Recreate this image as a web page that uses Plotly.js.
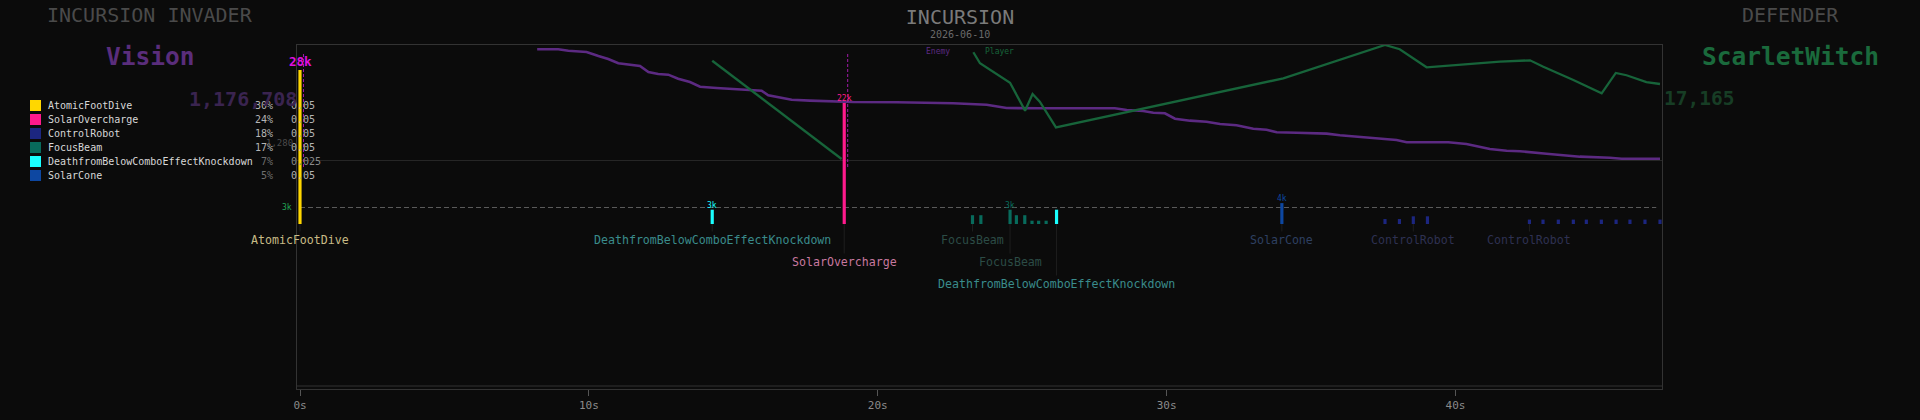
<!DOCTYPE html>
<html><head><meta charset="utf-8">
<script src="https://cdn.plot.ly/plotly-3.0.1.min.js"></script>
<style>html,body{margin:0;padding:0;background:#0b0b0b;}#chart{width:1920px;height:420px;}</style>
</head><body><div id="chart"></div>
<script>
// ---------------- DATA ----------------
const abilities = ['AtomicFootDive','SolarOvercharge','ControlRobot','FocusBeam','DeathfromBelowComboEffectKnockdown','SolarCone'];
const abilityColors = ['#ffd700','#ff1a8c','#1c2680','#086b5c','#1affff','#0d47a1'];
const abilityLabelColors = ['#c8bb86','#c8789f','#2e3152','#2c4c46','#3a8c8c','#2e4062'];
const legendPct = ['30%','24%','18%','17%','7%','5%'];
const legendVal = ['0.05','0.05','0.05','0.05','0.025','0.05'];

// damage events
const hitTimes  = [0.00, 14.27, 18.84, 23.28, 23.57, 24.58, 24.80, 25.09, 25.34, 25.57, 25.83, 26.19, 33.99,
                   37.56, 38.06, 38.54, 39.03, 42.56, 43.03, 43.56, 44.08, 44.53, 45.05, 45.56, 46.04, 46.56, 47.08];
const hitDamage = [28000, 2600, 22000, 1600, 1600, 2600, 1600, 1600, 600, 600, 600, 2600, 3800,
                   900, 900, 1400, 1400, 800, 800, 800, 800, 800, 800, 800, 800, 800, 800];
const hitAbility = ['AtomicFootDive','DeathfromBelowComboEffectKnockdown','SolarOvercharge','FocusBeam','FocusBeam',
                    'FocusBeam','FocusBeam','FocusBeam','FocusBeam','FocusBeam','FocusBeam',
                    'DeathfromBelowComboEffectKnockdown','SolarCone',
                    'ControlRobot','ControlRobot','ControlRobot','ControlRobot',
                    'ControlRobot','ControlRobot','ControlRobot','ControlRobot','ControlRobot','ControlRobot','ControlRobot','ControlRobot','ControlRobot','ControlRobot'];

// name labels under casts
const castTimes = [0.00, 14.27, 18.84, 23.28, 24.58, 26.19, 33.99, 38.54, 42.56];
const castAbility = ['AtomicFootDive','DeathfromBelowComboEffectKnockdown','SolarOvercharge','FocusBeam','FocusBeam',
                     'DeathfromBelowComboEffectKnockdown','SolarCone','ControlRobot','ControlRobot'];
// value labels above bars
const peakTimes = [0.00, 14.27, 18.84, 24.58, 33.99];
const peakText  = ['28k','3k','22k','3k','4k'];
// highlight markers (dashed)
const markerTimes = [0.12, 18.96];
const refLevel = 3000, refLabel = '3k';

// HP fraction lines
const enemyT = [8.21,8.94,9.29,9.92,10.33,10.67,11.02,11.36,11.77,12.06,12.40,12.75,13.09,13.50,13.85,14.42,15.00,15.69,15.98,16.21,16.61,17.02,17.65,18.46,19.15,20.65,22.61,23.77,24.46,25.61,28.21,28.62,29.19,29.54,29.94,30.29,30.81,31.38,31.85,32.42,33.00,33.46,33.81,34.50,35.54,36.00,36.69,37.38,37.96,38.31,39.75,40.38,41.19,41.77,42.23,43.15,44.31,45.34,45.75,47.08];
const enemyHP = [0.963,0.963,0.950,0.939,0.904,0.878,0.841,0.829,0.817,0.765,0.748,0.742,0.707,0.678,0.637,0.626,0.617,0.611,0.603,0.563,0.545,0.524,0.516,0.507,0.504,0.502,0.493,0.481,0.452,0.450,0.450,0.435,0.426,0.411,0.406,0.359,0.342,0.333,0.313,0.302,0.272,0.263,0.241,0.237,0.229,0.215,0.200,0.185,0.174,0.154,0.154,0.139,0.096,0.081,0.076,0.055,0.029,0.020,0.011,0.011];
const playerT = [14.27,18.75,18.80,23.31,23.54,24.58,25.10,25.36,25.61,26.17,34.04,37.56,38.07,39.00,39.57,40.61,41.54,42.58,43.04,44.08,45.06,45.55,45.92,46.61,47.08];
const playerHP = [0.863,0.009,null,0.937,0.841,0.672,0.429,0.574,0.507,0.284,0.710,1.000,0.963,0.806,0.817,0.835,0.855,0.867,0.811,0.696,0.580,0.757,0.737,0.678,0.661];

const invaderLabel = 'INCURSION INVADER', invaderName = 'Vision', invaderValue = '1,176,708';
const defenderLabel = 'DEFENDER', defenderName = 'ScarletWitch', defenderValue = '17,165';
const chartTitle = 'INCURSION', chartDate = '2026-06-10';
const smallNote = '1,280';
const xTicks = [0,10,20,30,40];
const tEnd = 47.08;

// ---------------- LAYOUT HELPERS ----------------
const FONT = 'DejaVu Sans Mono, monospace';
const X0 = 300, X1 = 1660;            // pixel of t=0 and t=tEnd
const PPS = (X1 - X0) / tEnd;         // pixels per second
const L = 297, R = 1662, T = 45, B = 389;  // plot frame (slightly padded so edge bars show whole)
const PX = x => (x - L) / (R - L);
const PY = y => (B - y) / (B - T);
const colorOf = a => abilityColors[abilities.indexOf(a)];

const traces = [];
traces.push({type:'scatter', x: enemyT, y: enemyHP, yaxis:'y2', mode:'lines',
  line:{color:'#5c2a82', width:2.6, shape:'linear'}, hoverinfo:'skip', showlegend:false});
traces.push({type:'scatter', x: playerT, y: playerHP, yaxis:'y2', mode:'lines', connectgaps:false,
  line:{color:'#17643a', width:2.3}, hoverinfo:'skip', showlegend:false});
abilities.forEach((a, i) => {
  const xs = [], ys = [];
  hitTimes.forEach((t, k) => { if (hitAbility[k] === a) { xs.push(t); ys.push(hitDamage[k]); } });
  traces.push({type:'bar', x: xs, y: ys, width: 0.11, cliponaxis:false,
    marker:{color: abilityColors[i], line:{width:0}},
    hoverinfo:'skip', showlegend:false, name:a});
});

const annotations = [];
const shapes = [];

// legend block
abilities.forEach((a, i) => {
  const yc = 105.5 + 14 * i;
  shapes.push({type:'rect', xref:'paper', yref:'paper', x0: PX(30), x1: PX(41), y0: PY(yc+5.5), y1: PY(yc-5.5),
    fillcolor: abilityColors[i], line:{width:0}, layer:'above'});
  annotations.push({xref:'paper', yref:'paper', x: PX(46), y: PY(yc), xanchor:'left', yanchor:'middle',
    text: a, showarrow:false, font:{family:FONT, size:10, color:'#d8d8d8'}});
  const dim = parseFloat(legendPct[i]) < 10;
  annotations.push({xref:'paper', yref:'paper', x: PX(275), y: PY(yc), xanchor:'right', yanchor:'middle',
    text: legendPct[i], showarrow:false, font:{family:FONT, size:10, color: dim ? '#6e6e6e' : '#b4b4b4'}});
  annotations.push({xref:'paper', yref:'paper', x: PX(289), y: PY(yc), xanchor:'left', yanchor:'middle',
    text: legendVal[i], showarrow:false, font:{family:FONT, size:10, color: dim && legendVal[i] !== '0.05' ? '#8a8a8a' : '#b4b4b4'}});
});
annotations.push({xref:'paper', yref:'paper', x: PX(295), y: PY(143), xanchor:'right', yanchor:'middle',
  text: smallNote, showarrow:false, font:{family:FONT, size:9, color:'#4a4a4a'}});

// header texts
annotations.push({xref:'paper', yref:'paper', x: PX(150), y: PY(15), xanchor:'center', yanchor:'middle',
  text: invaderLabel, showarrow:false, font:{family:FONT, size:20, color:'#4a4a4a'}});
annotations.push({xref:'paper', yref:'paper', x: PX(150), y: PY(57), xanchor:'center', yanchor:'middle',
  text: '<b>'+invaderName+'</b>', showarrow:false, font:{family:FONT, size:24.5, color:'#5a2d7c'}});
annotations.push({xref:'paper', yref:'paper', x: PX(299), y: PY(99), xanchor:'right', yanchor:'middle',
  text: '<b>'+invaderValue+'</b>', showarrow:false, font:{family:FONT, size:20, color:'#3a2450'}});
annotations.push({xref:'paper', yref:'paper', x: PX(1790), y: PY(15), xanchor:'center', yanchor:'middle',
  text: defenderLabel, showarrow:false, font:{family:FONT, size:20, color:'#4a4a4a'}});
annotations.push({xref:'paper', yref:'paper', x: PX(1790), y: PY(57), xanchor:'center', yanchor:'middle',
  text: '<b>'+defenderName+'</b>', showarrow:false, font:{family:FONT, size:24.5, color:'#1a6a3c'}});
annotations.push({xref:'paper', yref:'paper', x: PX(1662), y: PY(99), xanchor:'left', yanchor:'middle',
  text: '<b>'+defenderValue+'</b>', showarrow:false, font:{family:FONT, size:19.5, color:'#173d25'}});
annotations.push({xref:'paper', yref:'paper', x: PX(960), y: PY(35), xanchor:'center', yanchor:'middle',
  text: chartDate, showarrow:false, font:{family:FONT, size:10, color:'#6a6a6a'}});
annotations.push({xref:'paper', yref:'paper', x: PX(938), y: PY(51.5), xanchor:'center', yanchor:'middle',
  text: 'Enemy', showarrow:false, font:{family:FONT, size:8, color:'#5c2a82'}});
annotations.push({xref:'paper', yref:'paper', x: PX(999.5), y: PY(51.5), xanchor:'center', yanchor:'middle',
  text: 'Player', showarrow:false, font:{family:FONT, size:8, color:'#17643a'}});

// reference level
shapes.push({type:'line', xref:'x', yref:'y', x0: 0, x1: 46.95, y0: refLevel, y1: refLevel,
  line:{color:'#5a5a5a', width:1, dash:'5px,3px'}, layer:'below'});
annotations.push({xref:'paper', yref:'y', x: PX(294), y: refLevel, xanchor:'right', yanchor:'middle',
  text: refLabel, showarrow:false, font:{family:FONT, size:8, color:'#22a455'}});

// highlight markers
markerTimes.forEach(t => shapes.push({type:'line', xref:'x', yref:'paper', x0:t, x1:t, y0: PY(167), y1: PY(53),
  line:{color:'#a21aa8', width:1, dash:'3px,2px'}, layer:'above'}));

// bottom double line
shapes.push({type:'line', xref:'paper', yref:'paper', x0:0, x1:1, y0: PY(386), y1: PY(386),
  line:{color:'#333333', width:1}});

// value labels
const maxDmg = Math.max(...hitDamage);
peakTimes.forEach((t, i) => {
  const k = hitTimes.indexOf(t);
  const isMax = hitDamage[k] === maxDmg;
  annotations.push({x: t, y: hitDamage[k], xref:'x', yref:'y', yanchor:'bottom', xanchor:'center',
    text: isMax ? '<b>'+peakText[i]+'</b>' : peakText[i], showarrow:false, yshift: isMax ? -1 : -2,
    font:{family:FONT, size: isMax ? 12.5 : 8, color: isMax ? '#e010e0' : colorOf(hitAbility[k])}});
});

// cast name labels with row stacking
const rows = [];
castTimes.forEach((t, i) => {
  const name = castAbility[i];
  const cx = X0 + t * PPS;
  const w = name.length * 7;
  const a0 = cx - w/2 - 2, a1 = cx + w/2 + 2;
  let r = 0;
  while (rows[r] && rows[r].some(s => !(a1 < s[0] || a0 > s[1]))) r++;
  (rows[r] = rows[r] || []).push([a0, a1]);
  annotations.push({x: t, y: 0, xref:'x', yref:'y', ax: 0, ay: 16 + 22 * r, showarrow:true, arrowhead:0,
    arrowwidth:0.6, arrowcolor:'#2c2c2c', standoff:0, startstandoff:0,
    text: name, font:{family:FONT, size:11.6, color: abilityLabelColors[abilities.indexOf(name)]}});
});

const layout = {
  width:1920, height:420,
  paper_bgcolor:'#0b0b0b', plot_bgcolor:'#0b0b0b',
  margin:{l:L, r:1920-R, t:T, b:420-B, pad:0},
  font:{family:FONT, color:'#888'},
  title:{text: chartTitle, x:0.5, xref:'container', xanchor:'center', y: 1 - 16.5/420, yref:'container', yanchor:'middle',
    font:{family:FONT, size:20, color:'#7a7a7a'}},
  showlegend:false,
  barmode:'overlay',
  xaxis:{range:[(L - X0) / PPS, tEnd + (R - X1) / PPS], tickvals: xTicks, ticktext: xTicks.map(v => v + 's'),
    ticks:'outside', ticklen:6, tickcolor:'#555', tickfont:{family:FONT, size:11, color:'#8a8a8a'},
    showgrid:false, zeroline:false, showline:true, linecolor:'#333', linewidth:1, mirror:true, fixedrange:true},
  yaxis:{range:[-30000, 32545], showgrid:false, zeroline:false, showticklabels:false, ticks:'',
    showline:true, linecolor:'#333', linewidth:1, mirror:true, fixedrange:true},
  yaxis2:{overlaying:'y', range:[-(B-160)/115, 1], showgrid:false, zeroline:true, zerolinecolor:'#262626', zerolinewidth:1,
    showticklabels:false, ticks:'', showline:false, fixedrange:true},
  annotations, shapes
};

Plotly.newPlot('chart', traces, layout, {staticPlot:true, displayModeBar:false});
</script></body></html>
